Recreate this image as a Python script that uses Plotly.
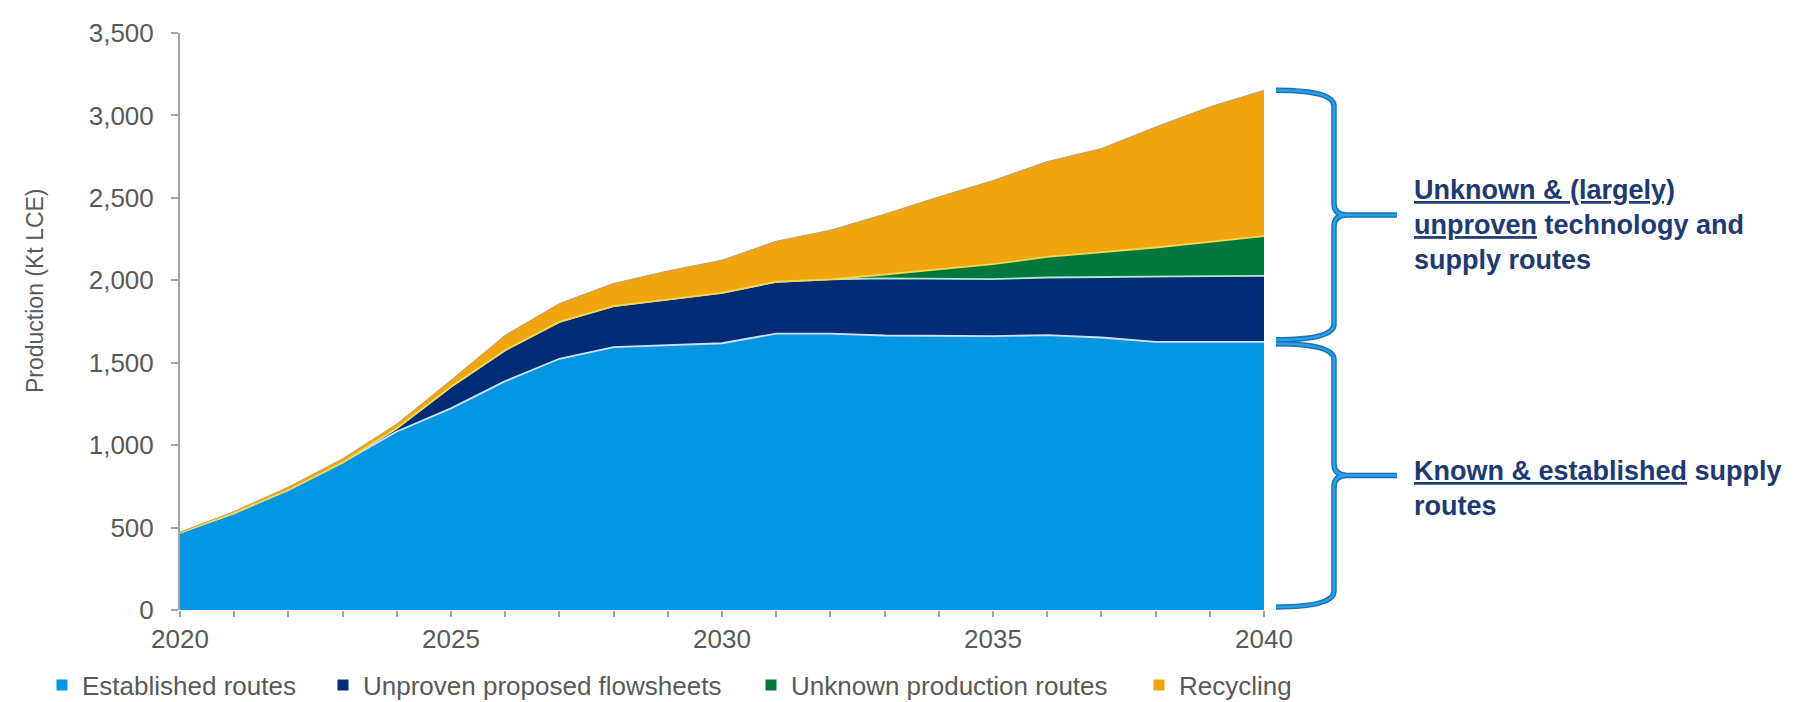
import plotly.graph_objects as go

# ---------------- data (Kt LCE) ----------------
years = list(range(2020, 2041))
established = [469, 588, 728, 895, 1083, 1223, 1388, 1524, 1595, 1607, 1618,
               1677, 1677, 1665, 1661, 1661, 1667, 1653, 1627, 1627, 1627]
unproven = [0, 0, 0, 0, 20, 131, 188, 224, 248, 277, 306,
            314, 328, 346, 346, 346, 350, 368, 394, 398, 400]
unknown = [0, 0, 0, 0, 0, 0, 0, 0, 0, 0, 0,
           0, 0, 24, 58, 91, 125, 148, 178, 208, 241]
recycling = [3, 10, 18, 22, 25, 40, 91, 111, 138, 173, 198,
             246, 299, 366, 441, 507, 578, 630, 731, 819, 885]

series_names = ["Established routes", "Unproven proposed flowsheets",
                "Unknown production routes", "Recycling"]
series_values = [established, unproven, unknown, recycling]
fill_colors = ["#0397e3", "#022d76", "#00773c", "#f0a50f"]
edge_colors = ["#d2e0f6", "#b4e4cc", "#f6d84e", "#b8a07a"]
edge_widths = [1.8, 1.8, 1.8, 1.0]

y_title = "Production (Kt LCE)"
brace_label_top = ("<b><u>Unknown &amp; (largely)</u><br><u>unproven</u> technology and"
                   "<br>supply routes</b>")
brace_label_bottom = "<b><u>Known &amp; established</u> supply<br>routes</b>"

FONT = "Liberation Sans, Arial, sans-serif"
GREY = "#595959"
AXIS_GREY = "#a3a3a3"

fig = go.Figure()

for name, vals, fc, ec, ew in zip(series_names, series_values, fill_colors,
                                  edge_colors, edge_widths):
    fig.add_trace(go.Scatter(
        x=years, y=vals, name=name, stackgroup="one", mode="lines",
        line=dict(color=ec, width=ew, shape="linear"),
        fillcolor=fc, showlegend=False, hoverinfo="x+y+name",
    ))

# legend-only entries (small square markers, one legend per entry for spacing)
legend_ids = ["legend", "legend2", "legend3", "legend4"]
for name, fc, lid in zip(series_names, fill_colors, legend_ids):
    fig.add_trace(go.Scatter(
        x=[None], y=[None], mode="markers", name=name, legend=lid,
        marker=dict(symbol="square", size=11, color=fc, line=dict(width=0)),
        showlegend=True,
    ))

# ---------------- layout ----------------
W, H = 1807, 702
ml, mr, mt, mb = 180, 543, 33, 92
plot_w = W - ml - mr
plot_h = H - mt - mb

def px_to_paper_x(px):
    return (px - ml) / plot_w

def px_to_paper_y(py):
    return (H - mb - py) / plot_h

legend_marker_px = [63, 344, 772, 1160]
legend_font = dict(family=FONT, size=26, color=GREY)
legends = {}
for lid, mpx in zip(legend_ids, legend_marker_px):
    legends[lid] = dict(
        x=px_to_paper_x(mpx - 21), y=px_to_paper_y(685), xanchor="left",
        yanchor="middle", orientation="h", font=legend_font,
        bgcolor="rgba(0,0,0,0)", borderwidth=0, itemwidth=30,
    )

fig.update_layout(
    width=W, height=H,
    margin=dict(l=ml, r=mr, t=mt, b=mb, autoexpand=False),
    paper_bgcolor="white", plot_bgcolor="white",
    font=dict(family=FONT, color=GREY),
    **legends,
)

fig.update_xaxes(
    range=[years[0], years[-1]], tick0=2020, dtick=5, tickformat="d",
    showgrid=False, zeroline=False, showline=False, automargin=False,
    ticks="outside", ticklen=6, tickwidth=1.5, tickcolor=AXIS_GREY,
    tickfont=dict(family=FONT, size=26, color=GREY),
    minor=dict(dtick=1, ticks="outside", ticklen=6, tickwidth=1.5,
               tickcolor=AXIS_GREY, showgrid=False),
)
fig.update_yaxes(
    range=[0, 3500], dtick=500, tickformat=",",
    showgrid=False, zeroline=False, showline=True, linecolor=AXIS_GREY,
    linewidth=2, ticks="outside", ticklen=7, tickwidth=2, tickcolor=AXIS_GREY,
    tickfont=dict(family=FONT, size=26, color=GREY), ticklabelstandoff=12,
    automargin=False,
)

# y-axis title (placed slightly above centre, as in the original)
fig.add_annotation(text=y_title, xref="paper", yref="paper",
                   x=px_to_paper_x(35), y=px_to_paper_y(291), textangle=-90,
                   xanchor="center", yanchor="middle", showarrow=False,
                   font=dict(family=FONT, size=23, color=GREY))

# ---------------- braces ----------------
last_est = established[-1]
last_total = (established[-1] + unproven[-1] + unknown[-1] + recycling[-1])
xL, xV, xT = px_to_paper_x(1276), px_to_paper_x(1334), px_to_paper_x(1397)
xR = px_to_paper_x(1334 + 13)   # end of the rounded part near the tip
d_end = 95      # corner radius at the brace ends (data units)
d_tip = 70      # corner radius near the tip (data units)

def brace_path(y_top, y_bot):
    ym = (y_top + y_bot) / 2
    return (f"M {xL},{y_top} Q {xV},{y_top} {xV},{y_top - d_end} "
            f"L {xV},{ym + d_tip} Q {xV},{ym} {xR},{ym} L {xT},{ym} "
            f"M {xR},{ym} Q {xV},{ym} {xV},{ym - d_tip} "
            f"L {xV},{y_bot + d_end} Q {xV},{y_bot} {xL},{y_bot}")

for (yt, yb) in [(last_total, last_est + 12), (last_est - 12, 18)]:
    p = brace_path(yt, yb)
    fig.add_shape(type="path", path=p, xref="paper", yref="y",
                  line=dict(color="#1f6fb8", width=5.5), layer="above")
    fig.add_shape(type="path", path=p, xref="paper", yref="y",
                  line=dict(color="#22a3e6", width=2.6), layer="above")

label_font = dict(family=FONT, size=27, color="#1d3a72")
fig.add_annotation(text=brace_label_top, xref="paper", yref="paper",
                   x=px_to_paper_x(1412), y=px_to_paper_y(225),
                   xanchor="left", yanchor="middle", align="left",
                   showarrow=False, font=label_font)
fig.add_annotation(text=brace_label_bottom, xref="paper", yref="paper",
                   x=px_to_paper_x(1412), y=px_to_paper_y(488),
                   xanchor="left", yanchor="middle", align="left",
                   showarrow=False, font=label_font)

# remove the default 8px body margin so the figure fills the window exactly
fig.write_html("out.html", config={"displayModeBar": False},
               post_script="document.body.style.margin='0px';")
